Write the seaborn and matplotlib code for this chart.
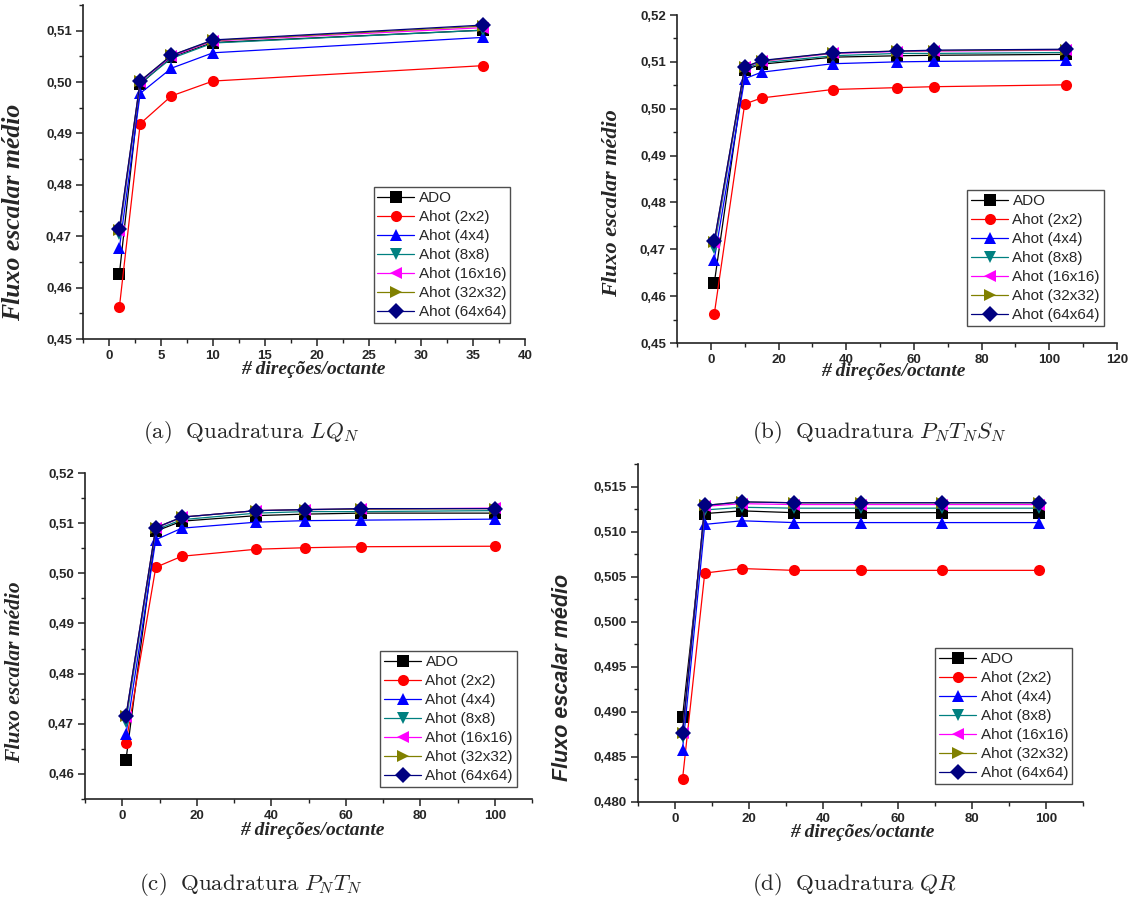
import numpy as np
import pandas as pd
import matplotlib
matplotlib.use("Agg")
import matplotlib.pyplot as plt
from matplotlib.ticker import MultipleLocator, FuncFormatter
import seaborn as sns

# ---- data: mean scalar flux vs. number of directions per octant ----
series = ["ADO", "Ahot (2x2)", "Ahot (4x4)", "Ahot (8x8)",
          "Ahot (16x16)", "Ahot (32x32)", "Ahot (64x64)"]

# (a) LQ_N quadrature
x_lqn = [1, 3, 6, 10, 36]
lqn_ado = [0.4627, 0.4996, 0.5049, 0.5077, 0.5101]
lqn_2x2 = [0.4562, 0.4919, 0.4973, 0.5002, 0.5032]
lqn_4x4 = [0.4677, 0.4978, 0.5027, 0.5057, 0.5087]
lqn_8x8 = [0.4704, 0.4998, 0.5046, 0.5076, 0.5101]
lqn_16x16 = [0.4711, 0.5001, 0.5050, 0.5080, 0.5106]
lqn_32x32 = [0.4713, 0.5002, 0.5052, 0.5081, 0.5109]
lqn_64x64 = [0.4715, 0.5002, 0.5052, 0.5082, 0.5111]

# (b) P_N T_N S_N quadrature
x_ptsn = [1, 10, 15, 36, 55, 66, 105]
ptsn_ado = [0.4627, 0.5083, 0.5095, 0.5110, 0.5113, 0.5114, 0.5116]
ptsn_2x2 = [0.4561, 0.5010, 0.5023, 0.5041, 0.5045, 0.5047, 0.5051]
ptsn_4x4 = [0.4678, 0.5064, 0.5078, 0.5096, 0.5100, 0.5101, 0.5103]
ptsn_8x8 = [0.4703, 0.5086, 0.5098, 0.5113, 0.5118, 0.5118, 0.5120]
ptsn_16x16 = [0.4713, 0.5088, 0.5101, 0.5118, 0.5122, 0.5123, 0.5125]
ptsn_32x32 = [0.4716, 0.5089, 0.5102, 0.5119, 0.5123, 0.5124, 0.5126]
ptsn_64x64 = [0.4717, 0.5089, 0.5103, 0.5119, 0.5123, 0.5125, 0.5127]

# (c) P_N T_N quadrature
x_ptn = [1, 9, 16, 36, 49, 64, 100]
ptn_ado = [0.4628, 0.5084, 0.5104, 0.5115, 0.5118, 0.5120, 0.5120]
ptn_2x2 = [0.4661, 0.5012, 0.5034, 0.5048, 0.5051, 0.5053, 0.5054]
ptn_4x4 = [0.4679, 0.5067, 0.5090, 0.5102, 0.5105, 0.5106, 0.5108]
ptn_8x8 = [0.4704, 0.5087, 0.5107, 0.5120, 0.5123, 0.5123, 0.5125]
ptn_16x16 = [0.4714, 0.5090, 0.5112, 0.5125, 0.5127, 0.5128, 0.5130]
ptn_32x32 = [0.4715, 0.5091, 0.5112, 0.5125, 0.5127, 0.5128, 0.5129]
ptn_64x64 = [0.4716, 0.5091, 0.5112, 0.5125, 0.5127, 0.5129, 0.5129]

# (d) QR quadrature
x_qr = [2, 8, 18, 32, 50, 72, 98]
qr_ado = [0.4894, 0.5120, 0.5123, 0.5121, 0.5121, 0.5121, 0.5121]
qr_2x2 = [0.4825, 0.5054, 0.5059, 0.5057, 0.5057, 0.5057, 0.5057]
qr_4x4 = [0.4858, 0.5108, 0.5112, 0.5110, 0.5110, 0.5110, 0.5110]
qr_8x8 = [0.4872, 0.5124, 0.5127, 0.5126, 0.5126, 0.5126, 0.5126]
qr_16x16 = [0.4876, 0.5128, 0.5131, 0.5130, 0.5130, 0.5130, 0.5130]
qr_32x32 = [0.4877, 0.5129, 0.5133, 0.5132, 0.5132, 0.5132, 0.5132]
qr_64x64 = [0.4877, 0.5129, 0.5133, 0.5132, 0.5132, 0.5132, 0.5132]

captions = [r"$\mathrm{(a)\ \ Quadratura}\ LQ_N$",
            r"$\mathrm{(b)\ \ Quadratura}\ P_NT_NS_N$",
            r"$\mathrm{(c)\ \ Quadratura}\ P_NT_N$",
            r"$\mathrm{(d)\ \ Quadratura}\ QR$"]

colors = ["#000000", "#ff0000", "#0000ff", "#008080",
          "#ff00ff", "#808000", "#000080"]
markers = ["s", "o", "^", "v", "<", ">", "D"]


def long_frame(x, *cols):
    rows = []
    for name, vals in zip(series, cols):
        for xi, yi in zip(x, vals):
            rows.append({"n": xi, "flux": yi, "serie": name})
    return pd.DataFrame(rows)


panels = [
    long_frame(x_lqn, lqn_ado, lqn_2x2, lqn_4x4, lqn_8x8, lqn_16x16, lqn_32x32, lqn_64x64),
    long_frame(x_ptsn, ptsn_ado, ptsn_2x2, ptsn_4x4, ptsn_8x8, ptsn_16x16, ptsn_32x32, ptsn_64x64),
    long_frame(x_ptn, ptn_ado, ptn_2x2, ptn_4x4, ptn_8x8, ptn_16x16, ptn_32x32, ptn_64x64),
    long_frame(x_qr, qr_ado, qr_2x2, qr_4x4, qr_8x8, qr_16x16, qr_32x32, qr_64x64),
]

sns.set_style("ticks")
plt.rcParams["font.family"] = ["Liberation Sans", "DejaVu Sans"]
plt.rcParams["mathtext.fontset"] = "cm"

W, H = 1134, 908
fig = plt.figure(figsize=(W / 100, H / 100), dpi=100)

# axes boxes in pixels: left, right, top, bottom
boxes = [(83, 525, 5, 339), (677, 1117, 15, 343),
         (85, 532, 473, 799), (638, 1083, 464, 802)]
xlims = [(-2.5, 40), (-10, 120), (-10, 110), (-10, 110)]
ylims = [(0.45, 0.515), (0.45, 0.52), (0.455, 0.52), (0.48, 0.5175)]
xmaj = [5, 20, 20, 20]
ymaj = [0.01, 0.01, 0.01, 0.005]
ydec = [2, 2, 2, 3]
leg_anchor = [(0.966, 0.048), (0.970, 0.052), (0.966, 0.037), (0.975, 0.053)]
ylab_pos = [(-0.131, 0.38), (-0.125, 0.427), (-0.134, 0.39), (-0.146, 0.37)]
ylab_font = [("Liberation Serif", 18.5), ("Liberation Serif", 16),
             ("Liberation Serif", 15.5), ("Liberation Sans", 15.5)]
xlab_pos = [(0.52, -0.066), (0.491, -0.062), (0.508, -0.072), (0.503, -0.064)]
cap_pos = [(143, 433), (752, 433), (139, 885), (752, 885)]

for i, df in enumerate(panels):
    l, r, t, b = boxes[i]
    ax = fig.add_axes([l / W, 1 - b / H, (r - l) / W, (b - t) / H])
    sns.lineplot(data=df, x="n", y="flux", hue="serie", style="serie",
                 hue_order=series, style_order=series,
                 palette=dict(zip(series, colors)),
                 markers=dict(zip(series, markers)), dashes=False,
                 markersize=8, markeredgewidth=0, linewidth=0.9,
                 ax=ax, legend=False)
    ax.set_xlim(*xlims[i])
    ax.set_ylim(*ylims[i])
    sns.despine(ax=ax)
    for s in ("left", "bottom"):
        ax.spines[s].set_linewidth(1.2)
        ax.spines[s].set_color("#222222")
    ax.xaxis.set_major_locator(MultipleLocator(xmaj[i]))
    ax.xaxis.set_minor_locator(MultipleLocator(xmaj[i] / 2))
    ax.yaxis.set_major_locator(MultipleLocator(ymaj[i]))
    ax.yaxis.set_minor_locator(MultipleLocator(ymaj[i] / 2))
    d = ydec[i]
    ax.yaxis.set_major_formatter(
        FuncFormatter(lambda v, p, d=d: f"{v:.{d}f}".replace(".", ",")))
    ax.xaxis.set_major_formatter(FuncFormatter(lambda v, p: f"{v:g}"))
    ax.tick_params(which="major", direction="out", length=5, width=1.1,
                   pad=3, labelsize=9.5, color="#222222")
    ax.tick_params(which="minor", direction="out", length=3, width=1.0,
                   color="#222222")
    for lab in ax.get_xticklabels() + ax.get_yticklabels():
        lab.set_fontweight("bold")

    fam, fs = ylab_font[i]
    ax.set_ylabel("Fluxo escalar médio", family=fam, fontsize=fs,
                  fontweight="bold", fontstyle="italic")
    ax.yaxis.set_label_coords(*ylab_pos[i])
    ax.set_xlabel("# direções/octante", family="Liberation Serif",
                  fontsize=14, fontweight="bold", fontstyle="italic", va="top")
    ax.xaxis.set_label_coords(*xlab_pos[i])

    handles = [plt.Line2D([], [], color=c, marker=m, markersize=8,
                          markeredgewidth=0, linewidth=0.9)
               for c, m in zip(colors, markers)]
    leg = ax.legend(handles, series, loc="lower right",
                    bbox_to_anchor=leg_anchor[i], borderaxespad=0,
                    fontsize=11, frameon=True, fancybox=False,
                    handlelength=2.4, handletextpad=0.3, labelspacing=0.33,
                    borderpad=0.25)
    leg.get_frame().set_edgecolor("#222222")
    leg.get_frame().set_linewidth(1.0)

    cx, cy = cap_pos[i]
    fig.text(cx / W, 1 - cy / H, captions[i], fontsize=16.5,
             ha="left", va="center")

fig.savefig("out.png", dpi=100, facecolor="white")
